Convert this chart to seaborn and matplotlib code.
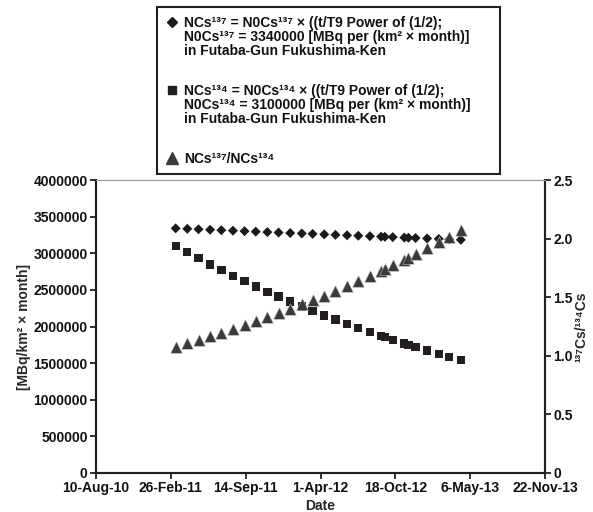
import matplotlib
matplotlib.use("Agg")
import matplotlib.pyplot as plt
from matplotlib.lines import Line2D
from matplotlib.patches import Rectangle
import seaborn as sns
import pandas as pd

# Sampling dates (monthly, plus two extra autumn-2012 samples)
dates = [
    "2011-03-11", "2011-04-11", "2011-05-11", "2011-06-11", "2011-07-11",
    "2011-08-11", "2011-09-11", "2011-10-11", "2011-11-11", "2011-12-11",
    "2012-01-11", "2012-02-11", "2012-03-11", "2012-04-11", "2012-05-11",
    "2012-06-11", "2012-07-11", "2012-08-11", "2012-09-10", "2012-09-20",
    "2012-10-11", "2012-11-11", "2012-11-22", "2012-12-11", "2013-01-11",
    "2013-02-11", "2013-03-11", "2013-04-11",
]

# Cs-137 deposition [MBq/km^2 x month]
cs137 = [
    3340000, 3333500, 3327200, 3320700, 3314500, 3308000, 3301600, 3295300,
    3288900, 3282700, 3276300, 3270000, 3264000, 3257600, 3251500, 3245200,
    3239000, 3232700, 3226600, 3224600, 3220300, 3214100, 3211900, 3208000,
    3201800, 3195500, 3189900, 3183700,
]

# Cs-134 deposition [MBq/km^2 x month]
cs134 = [
    3100000, 3012900, 2930900, 2848600, 2771100, 2693300, 2617600, 2546400,
    2474800, 2407500, 2339900, 2274100, 2214300, 2152100, 2093600, 2034700,
    1979400, 1923800, 1871400, 1854300, 1818900, 1767800, 1750000, 1719700,
    1671400, 1624400, 1583100, 1538600,
]

# Cs-137 / Cs-134 activity ratio
ratio = [
    1.0774, 1.1064, 1.1352, 1.1657, 1.1961, 1.2282, 1.2613, 1.2941,
    1.3290, 1.3635, 1.4002, 1.4379, 1.4741, 1.5137, 1.5531, 1.5949,
    1.6364, 1.6804, 1.7242, 1.7390, 1.7705, 1.8181, 1.8354, 1.8654,
    1.9156, 1.9672, 2.0150, 2.0692,
]

# Date axis ticks
tick_dates = ["2010-08-10", "2011-02-26", "2011-09-14", "2012-04-01",
              "2012-10-18", "2013-05-06", "2013-11-22"]
tick_labels = ["10-Aug-10", "26-Feb-11", "14-Sep-11", "1-Apr-12",
               "18-Oct-12", "6-May-13", "22-Nov-13"]
left_ticks = [0, 500000, 1000000, 1500000, 2000000, 2500000, 3000000, 3500000, 4000000]
right_ticks = [0, 0.5, 1.0, 1.5, 2.0, 2.5]
right_labels = ["0", "0.5", "1.0", "1.5", "2.0", "2.5"]

# Key entries
key_137 = ("NCs\u00b9\u00b3\u2077 = N0Cs\u00b9\u00b3\u2077 \u00d7 ((t/T9 Power of (1/2);\n"
           "N0Cs\u00b9\u00b3\u2077 = 3340000 [MBq per (km\u00b2 \u00d7 month)]\n"
           "in Futaba-Gun Fukushima-Ken")
key_134 = ("NCs\u00b9\u00b3\u2074 = N0Cs\u00b9\u00b3\u2074 \u00d7 ((t/T9 Power of (1/2);\n"
           "N0Cs\u00b9\u00b3\u2074 = 3100000 [MBq per (km\u00b2 \u00d7 month)]\n"
           "in Futaba-Gun Fukushima-Ken")
key_ratio = "NCs\u00b9\u00b3\u2077/NCs\u00b9\u00b3\u2074"

df = pd.DataFrame({"date": pd.to_datetime(dates), "cs137": cs137,
                   "cs134": cs134, "ratio": ratio})

sns.set_style("ticks")
plt.rcParams["font.family"] = ["Liberation Sans", "DejaVu Sans"]
plt.rcParams["font.weight"] = "bold"

INK = "#231f20"
FS = 10
W, H = 593, 512

fig = plt.figure(figsize=(W / 100, H / 100), dpi=100)
ax = fig.add_axes([96 / W, 1 - 473 / H, 449 / W, 293 / H])

sns.scatterplot(data=df, x="date", y="cs137", ax=ax, marker="D", s=26,
                color="#1a1a1a", edgecolor="none", legend=False, zorder=3)
sns.scatterplot(data=df, x="date", y="cs134", ax=ax, marker="s", s=36,
                color=INK, edgecolor="none", legend=False, zorder=3)

ax2 = ax.twinx()
sns.scatterplot(data=df, x="date", y="ratio", ax=ax2, marker="^", s=70,
                color="#3a3a3a", edgecolor="#bdbdbd", linewidth=0.4,
                legend=False, zorder=3)

td = pd.to_datetime(tick_dates)
ax.set_xlim(td[0], td[-1])
ax.set_xticks(td)
ax.set_xticklabels(tick_labels, fontsize=FS, fontweight="bold")
ax.set_ylim(0, 4000000)
ax.set_yticks(left_ticks)
ax.set_yticklabels([str(v) for v in left_ticks], fontsize=FS, fontweight="bold")
ax2.set_ylim(0, 2.5)
ax2.set_yticks(right_ticks)
ax2.set_yticklabels(right_labels, fontsize=FS, fontweight="bold")

ax.set_xlabel("Date", fontsize=FS, fontweight="bold", labelpad=3)
ax.set_ylabel("[MBq/km\u00b2 \u00d7 month]", fontsize=FS, fontweight="bold", labelpad=2)
ax2.set_ylabel("\u00b9\u00b3\u2077Cs/\u00b9\u00b3\u2074Cs", fontsize=FS,
               fontweight="bold", labelpad=1)

for a in (ax, ax2):
    for side in ("left", "right", "bottom"):
        a.spines[side].set_color(INK)
        a.spines[side].set_linewidth(1.5)
    a.spines["top"].set_color("#9a9a9a")
    a.spines["top"].set_linewidth(0.8)
    a.tick_params(axis="both", direction="out", length=4, width=1.3,
                  color=INK, labelcolor="#111111", pad=2)
ax.set_facecolor("white")


# Key box, positioned in figure pixels (origin top-left)
def fx(px):
    return px / W


def fy(py):
    return 1 - py / H


box_l, box_r, box_t, box_b = 157, 500, 7, 174
fig.add_artist(Rectangle((fx(box_l), fy(box_b)), fx(box_r) - fx(box_l),
                         fy(box_t) - fy(box_b), transform=fig.transFigure,
                         facecolor="white", edgecolor=INK, linewidth=1.5,
                         zorder=5))

entries = [
    (key_137, 22, dict(marker="D", color="#1a1a1a", markersize=5)),
    (key_134, 90, dict(marker="s", color=INK, markersize=6)),
    (key_ratio, 158, dict(marker="^", color="#3a3a3a", markersize=8)),
]
for txt, y0, mk in entries:
    fig.add_artist(Line2D([fx(box_l + 15)], [fy(y0)], transform=fig.transFigure,
                          linestyle="none", zorder=6, **mk))
    fig.text(fx(box_l + 27), fy(y0 - 6), txt, fontsize=FS, fontweight="bold",
             color="#111111", ha="left", va="top", linespacing=1.0,
             zorder=6)

fig.savefig("out.png", dpi=100, facecolor="white")
